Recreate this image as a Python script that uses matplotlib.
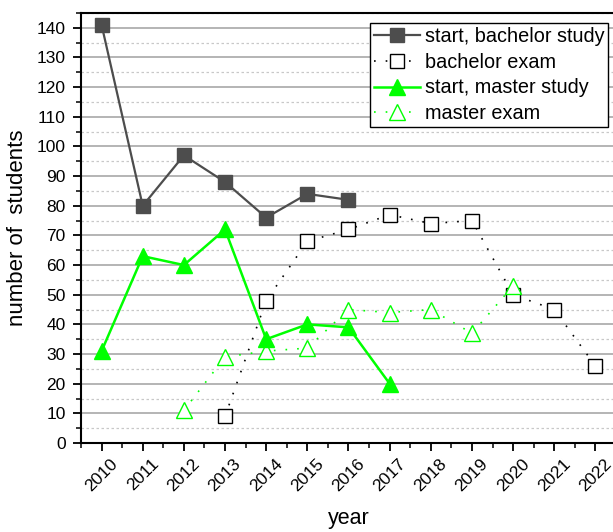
import numpy as np
import matplotlib.pyplot as plt
from matplotlib.ticker import MultipleLocator
from matplotlib.transforms import ScaledTranslation

plt.rcParams['font.family'] = ['Liberation Sans', 'DejaVu Sans']

# data
years_bs = [2010, 2011, 2012, 2013, 2014, 2015, 2016]
start_bachelor = [141, 80, 97, 88, 76, 84, 82]
years_be = [2013, 2014, 2015, 2016, 2017, 2018, 2019, 2020, 2021, 2022]
bachelor_exam = [9, 48, 68, 72, 77, 74, 75, 50, 45, 26]
years_ms = [2010, 2011, 2012, 2013, 2014, 2015, 2016, 2017]
start_master = [31, 63, 60, 72, 35, 40, 39, 20]
years_me = [2012, 2013, 2014, 2015, 2016, 2017, 2018, 2019, 2020]
master_exam = [11, 29, 31, 32, 45, 44, 45, 37, 53]
xticks = list(range(2010, 2023))

fig = plt.figure(figsize=(6.13, 5.32), dpi=100)
ax = fig.add_axes([81/613, 89/532, 535/613, 430/532])

grey = '#4d4d4d'
lime = '#00ff00'
ax.plot(years_bs, start_bachelor, '-s', color=grey, lw=1.6, ms=10, label='start, bachelor study', zorder=4)
ax.plot(years_be, bachelor_exam, ls=(0, (1, 6)), marker='s', color='black', lw=1.2, ms=10,
        mfc='white', mec='black', mew=1.0, label='bachelor exam', zorder=3)
ax.plot(years_ms, start_master, '-^', color=lime, lw=1.8, ms=12, label='start, master study', zorder=4)
ax.plot(years_me, master_exam, ls=(0, (1, 6)), marker='^', color=lime, lw=1.2, ms=12,
        mfc='white', mec=lime, mew=1.0, label='master exam', zorder=3)

ax.set_xlim(2009.5, 2022.5)
ax.set_ylim(0, 145)
ax.set_xticks(xticks)
ax.set_xticklabels([str(y) for y in xticks], rotation=45, fontsize=12.5)
shift = ScaledTranslation(-5/100, -4/100, fig.dpi_scale_trans)
for lbl in ax.get_xticklabels():
    lbl.set_transform(lbl.get_transform() + shift)
ax.xaxis.set_minor_locator(MultipleLocator(0.5))
ax.yaxis.set_major_locator(MultipleLocator(10))
ax.yaxis.set_minor_locator(MultipleLocator(5))
ax.tick_params(axis='y', labelsize=12.5, pad=5)
ax.tick_params(which='major', direction='out', length=6, width=1.3)
ax.tick_params(which='minor', direction='out', length=3.5, width=1.1)

ax.grid(True, which='major', axis='y', color='#a8a8a8', lw=1.2)
ax.grid(True, which='minor', axis='y', color='#c8c8c8', lw=0.9, ls=(0, (2, 2)))
ax.set_axisbelow(True)
for s in ['left', 'bottom', 'top']:
    ax.spines[s].set_linewidth(1.5)
ax.spines['right'].set_visible(False)

ax.set_ylabel('number of  students', fontsize=16, labelpad=6)
ax.set_xlabel('year', fontsize=15.5, labelpad=10)

leg = ax.legend(loc='upper left', bbox_to_anchor=(289/535, 1 - 10/430), fontsize=14.3,
                frameon=True, fancybox=False, edgecolor='black', framealpha=1,
                handlelength=2.3, borderpad=0.2, labelspacing=0.34, handletextpad=0.25,
                borderaxespad=0)
leg.get_frame().set_linewidth(1.0)

fig.savefig('out.png', dpi=100)
